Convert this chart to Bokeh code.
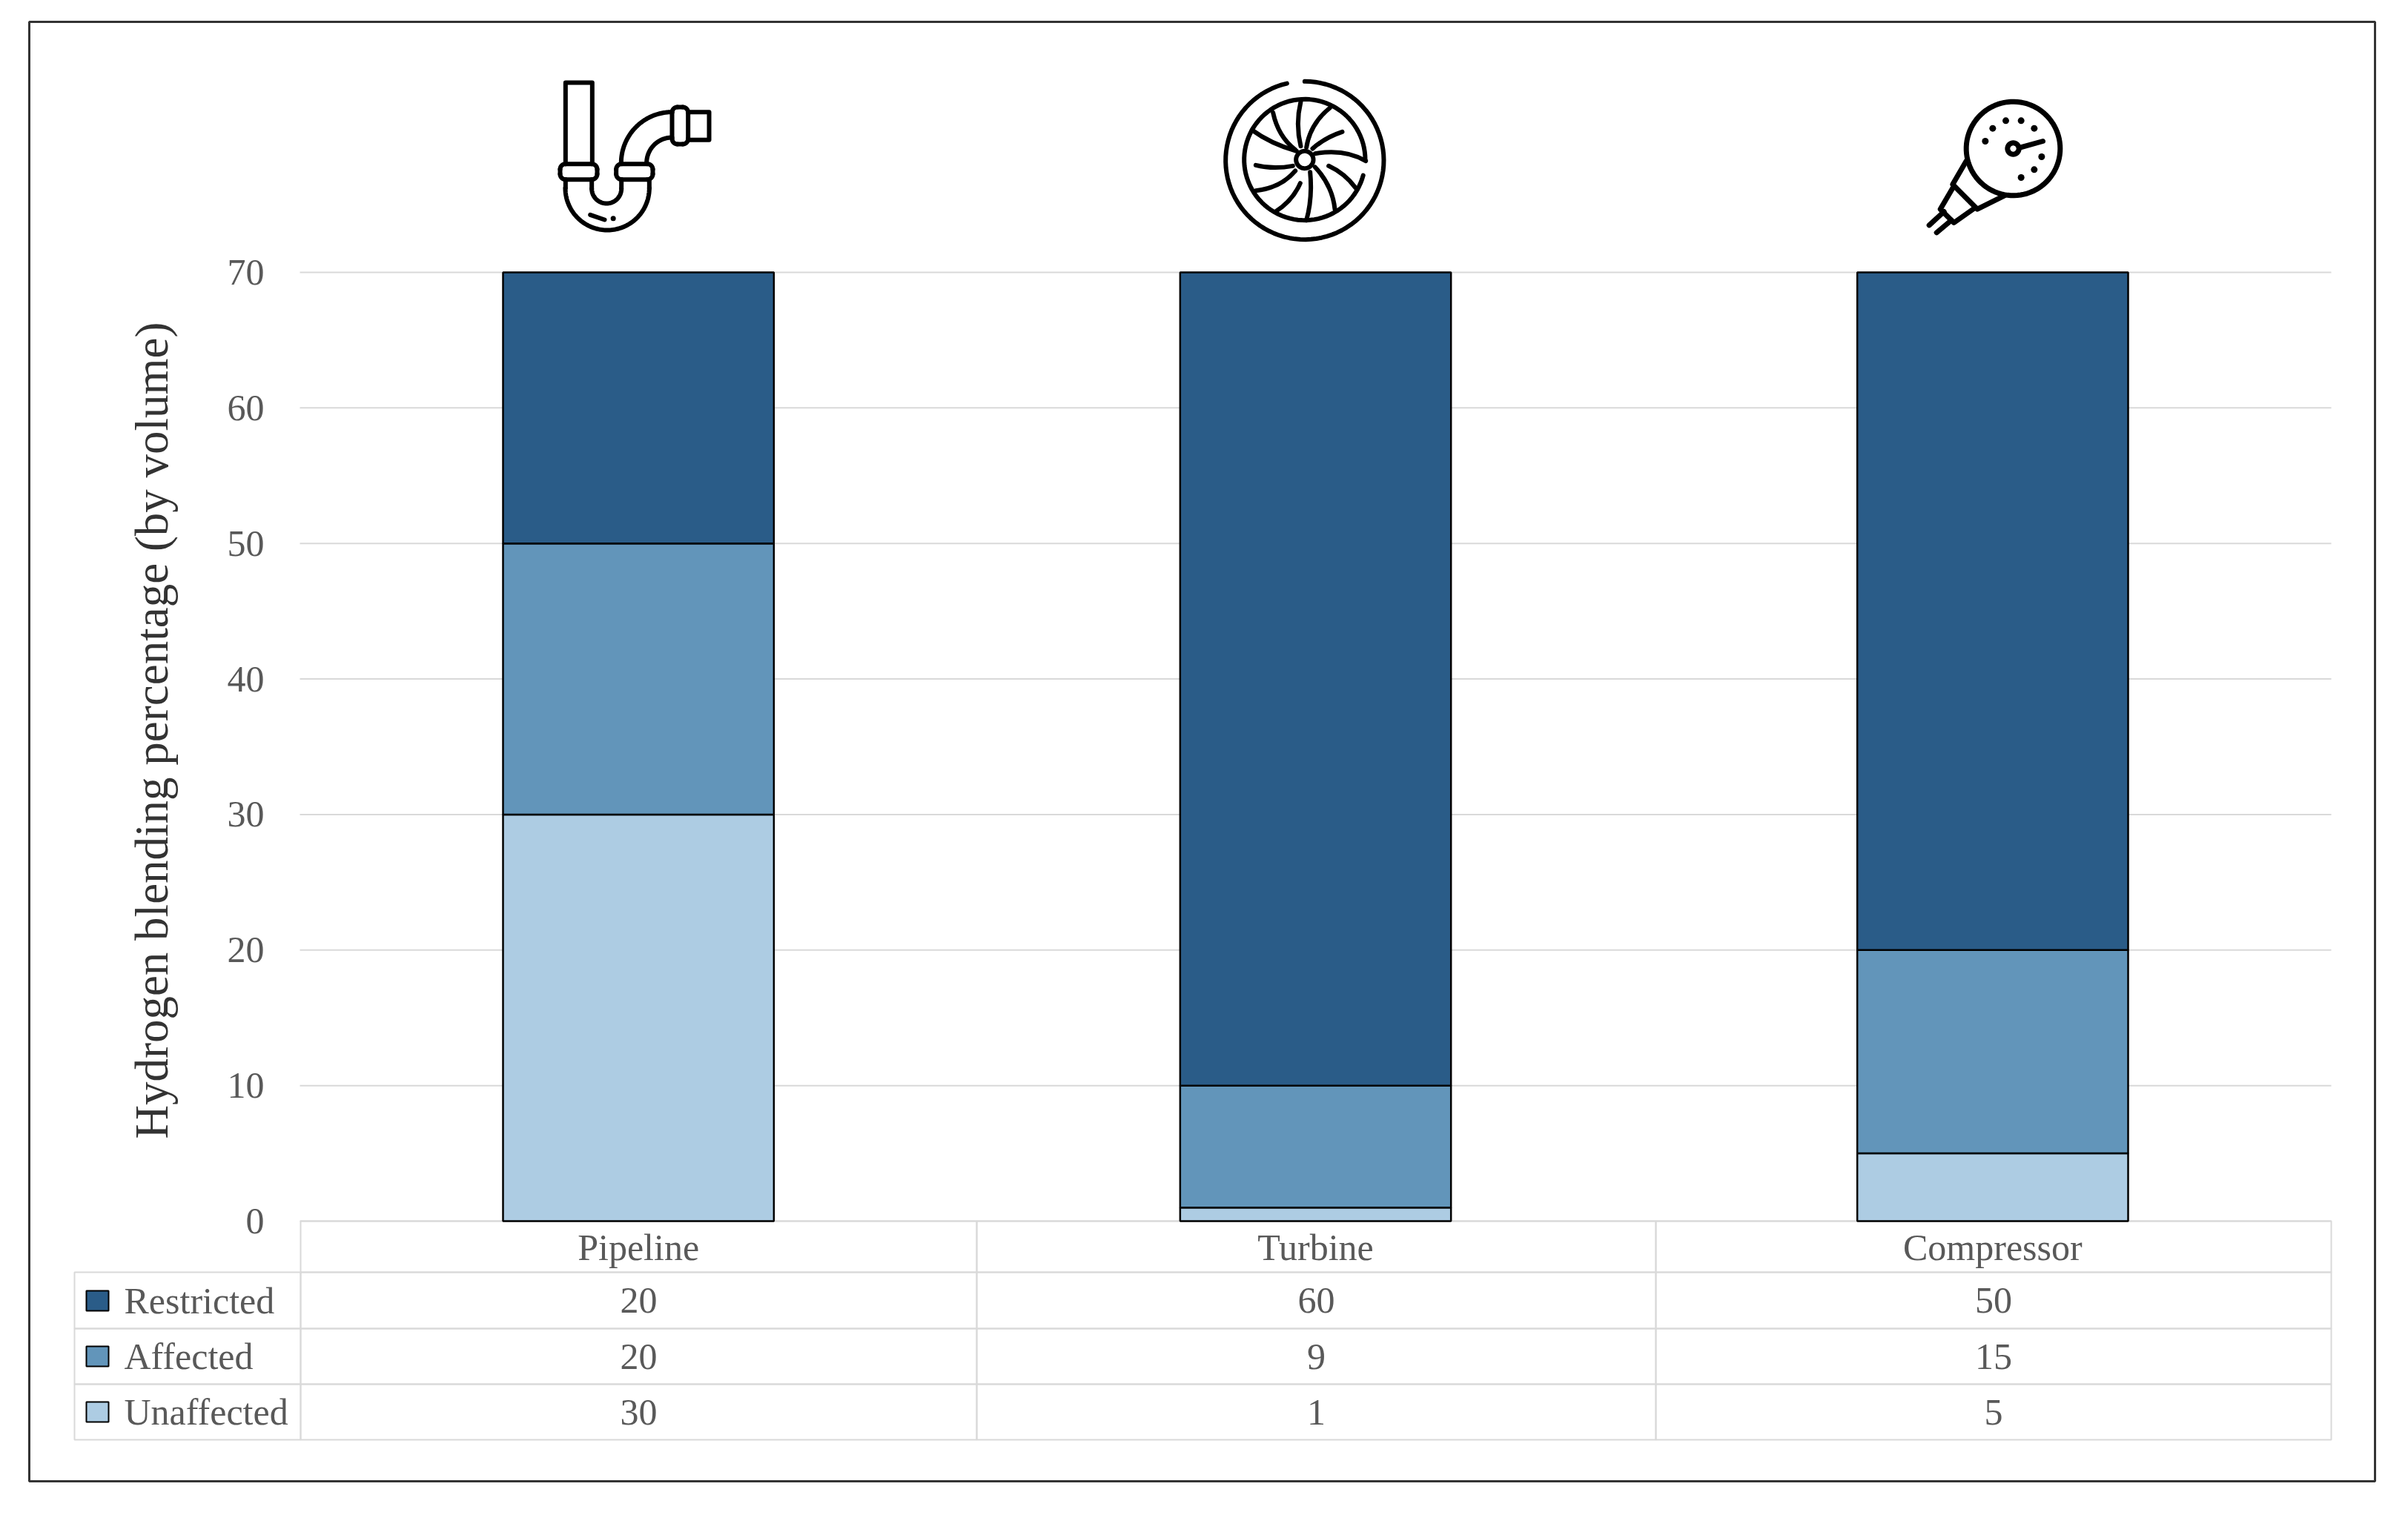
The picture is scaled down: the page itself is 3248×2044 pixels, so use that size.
import numpy as np
from bokeh.embed import file_html
from bokeh.models import BoxAnnotation, FixedTicker, Label, Range1d
from bokeh.plotting import figure
from bokeh.resources import INLINE

# chart data
components = ["Pipeline", "Turbine", "Compressor"]
statuses = ["Unaffected", "Affected", "Restricted"]
unaffected = [30, 1, 5]
affected = [20, 9, 15]
restricted = [20, 60, 50]
y_ticks = [0, 10, 20, 30, 40, 50, 60, 70]
y_title = "Hydrogen blending percentage (by volume)"

# colours
dark = "#2A5C88"
mid = "#6295BA"
light = "#ADCCE3"
grey = "#D9D9D9"
text_grey = "#595959"
font = "Liberation Serif"
label_size = "50px"

# layout, in pixels of the reference picture
W, H = 3232, 2028
plot_l, plot_r = 404, 3144
zero_y, top_y = 1647, 367

px_per_cat = (plot_r - plot_l) / len(components)
px_per_unit = (zero_y - top_y) / 70

# the frame fills the figure so the table and icons around the bars can be drawn
p = figure(
    width=W, height=H,
    x_range=Range1d(-plot_l / px_per_cat, (W - plot_l) / px_per_cat),
    y_range=Range1d((zero_y - H) / px_per_unit, zero_y / px_per_unit),
    output_backend="svg", toolbar_location=None,
    min_border=0,
)
p.extra_x_ranges = {"px": Range1d(0, W)}
p.extra_y_ranges = {"px": Range1d(H, 0)}
p.outline_line_color = None
p.background_fill_color = "white"
p.border_fill_color = "white"

# axes
centres = [i + 0.5 for i in range(len(components))]
p.xgrid.visible = False
p.ygrid.visible = False
p.yaxis.ticker = FixedTicker(ticks=y_ticks)
p.xaxis.ticker = FixedTicker(ticks=centres)
p.xaxis.major_label_overrides = dict(zip(centres, components))
p.yaxis.fixed_location = 0
p.xaxis.fixed_location = 0
p.axis.axis_line_color = None
p.axis.major_tick_line_color = None
p.axis.minor_tick_line_color = None
p.axis.major_label_text_font = font
p.axis.major_label_text_font_size = label_size
p.axis.major_label_text_color = text_grey
p.yaxis.major_label_standoff = 42
p.xaxis.major_label_standoff = 1

# gridlines stop at the plot edges
p.segment(x0=[0] * len(y_ticks), x1=[len(components)] * len(y_ticks), y0=y_ticks, y1=y_ticks,
          line_color=grey, line_width=2)

# stacked bars
source = {"x": centres, "Unaffected": unaffected, "Affected": affected, "Restricted": restricted}
p.vbar_stack(statuses, x="x", width=0.4, source=source, color=[light, mid, dark],
             line_color="black", line_width=2.5)


def box(l, r, t, b, **kw):
    p.add_layout(BoxAnnotation(left=l, right=r, top=t, bottom=b, x_range_name="px", y_range_name="px",
                               editable=False, line_alpha=1, **kw))


def cell(l, r, t, b):
    # table lines sit under the bars
    box(l, r, t, b, fill_color=None, line_color=grey, line_width=2, level="underlay")


def text(x, y, s, align="center", size=label_size, color=text_grey, angle=0):
    p.add_layout(Label(x=x, y=y, text=s, x_range_name="px", y_range_name="px", text_font=font,
                       text_font_size=size, text_color=color, text_align=align,
                       text_baseline="middle", angle=angle))


# frame round the whole chart
box(39, 3203, 29, 1998, fill_color=None, line_color="#333333", line_width=3)

# y axis title
text(204, 985, y_title, size="63px", color="#333333", angle=np.pi / 2)

# data table below the plot
row_edges = [1716, 1792, 1867, 1942]
col_edges = [405, 1317, 2233, 3144]
for i in range(3):
    cell(col_edges[i], col_edges[i + 1], 1647, 1716)
swatch_top = [1741, 1816, 1891]
rows = [("Restricted", restricted, dark), ("Affected", affected, mid), ("Unaffected", unaffected, light)]
for r, (name, values, colour) in enumerate(rows):
    t, b = row_edges[r], row_edges[r + 1]
    cell(100, 405, t, b)
    box(116, 146, swatch_top[r], swatch_top[r] + 27, fill_color=colour, fill_alpha=1, line_color="black", line_width=2)
    text(167, (t + b) / 2, name, align="left")
    for c, v in enumerate(values):
        cell(col_edges[c], col_edges[c + 1], t, b)
        text((col_edges[c] + col_edges[c + 1]) / 2, (t + b) / 2, str(v))


# icons, traced in 3x crop coordinates from an origin in the picture
def icon(ox, oy, width=5.5):
    def sx(v):
        return ox + np.asarray(v, dtype=float) / 3

    def sy(v):
        return oy + np.asarray(v, dtype=float) / 3

    style = dict(x_range_name="px", y_range_name="px", line_color="black", line_width=width,
                 line_cap="round", line_join="round")

    def poly(pts):
        xs, ys = zip(*pts)
        p.line(sx(xs), sy(ys), **style)

    def curve(a, c, b):
        p.quadratic(x0=[float(sx(a[0]))], y0=[float(sy(a[1]))], x1=[float(sx(b[0]))], y1=[float(sy(b[1]))],
                    cx=[float(sx(c[0]))], cy=[float(sy(c[1]))], **style)

    def arc(cx, cy, r, a0, a1):
        t = np.radians(np.linspace(a0, a1, 90))
        p.line(sx(cx + r * np.cos(t)), sy(cy + r * np.sin(t)), **style)

    def rounded(l, t, r, b, rad):
        arc(l + rad, t + rad, rad, 180, 270)
        poly([(l + rad, t), (r - rad, t)])
        arc(r - rad, t + rad, rad, 270, 360)
        poly([(r, t + rad), (r, b - rad)])
        arc(r - rad, b - rad, rad, 0, 90)
        poly([(r - rad, b), (l + rad, b)])
        arc(l + rad, b - rad, rad, 90, 180)
        poly([(l, b - rad), (l, t + rad)])

    def dot(x, y, r):
        p.circle([float(sx(x))], [float(sy(y))], radius=r, x_range_name="px", y_range_name="px",
                 fill_color="black", line_color=None)

    return poly, curve, arc, rounded, dot


# pipe
poly, curve, arc, rounded, dot = icon(700, 60, width=6)
poly([(187, 482), (187, 153), (295, 153), (295, 482)])
rounded(165, 482, 315, 545, 22)
rounded(392, 482, 540, 545, 22)
arc(356, 580, 170, 0, 180)
arc(353, 582, 60, 0, 180)
poly([(187, 545), (187, 580)])
poly([(526, 545), (526, 580)])
poly([(293, 545), (293, 582)])
poly([(413, 545), (413, 582)])
arc(618, 478, 206, 180, 270)
arc(618, 478, 103, 180, 270)
rounded(618, 252, 683, 402, 22)
poly([(683, 272), (768, 272), (768, 385), (683, 385)])
poly([(287, 688), (345, 708)])
dot(380, 703, 3.5)

# turbine
poly, curve, arc, rounded, dot = icon(1600, 60, width=6)
arc(478, 468, 320, -90, 257)
arc(478, 465, 245, 15, 360)
arc(478, 465, 35, 0, 360)
blades = [
    ((445, 430), (340, 400), (265, 345)),
    ((440, 425), (370, 370), (350, 275)),
    ((462, 410), (440, 320), (462, 230)),
    ((485, 415), (500, 320), (580, 255)),
    ((510, 420), (560, 375), (630, 352)),
    ((520, 440), (640, 420), (725, 470)),
    ((575, 490), (640, 520), (685, 580)),
    ((520, 495), (590, 570), (600, 665)),
    ((500, 515), (510, 620), (485, 710)),
    ((460, 560), (430, 630), (360, 675)),
    ((440, 510), (380, 580), (280, 590)),
    ((430, 490), (350, 505), (280, 487)),
]
for a, c, b in blades:
    curve(a, c, b)

# pressure gauge
poly, curve, arc, rounded, dot = icon(2560, 100, width=7)
arc(465, 300, 190, 0, 360)
arc(465, 300, 23, 0, 360)
poly([(495, 295), (585, 270)])
poly([(275, 350), (220, 445), (320, 545), (430, 490)])
poly([(220, 460), (170, 545), (225, 600), (310, 540)])
poly([(125, 610), (185, 555)])
poly([(155, 640), (215, 590)])
for dx, dy in [(352, 270), (382, 218), (435, 187), (497, 187), (550, 218), (580, 333), (550, 385), (497, 417)]:
    dot(dx, dy, 4.5)

open("out.html", "w").write(file_html(p, INLINE))
